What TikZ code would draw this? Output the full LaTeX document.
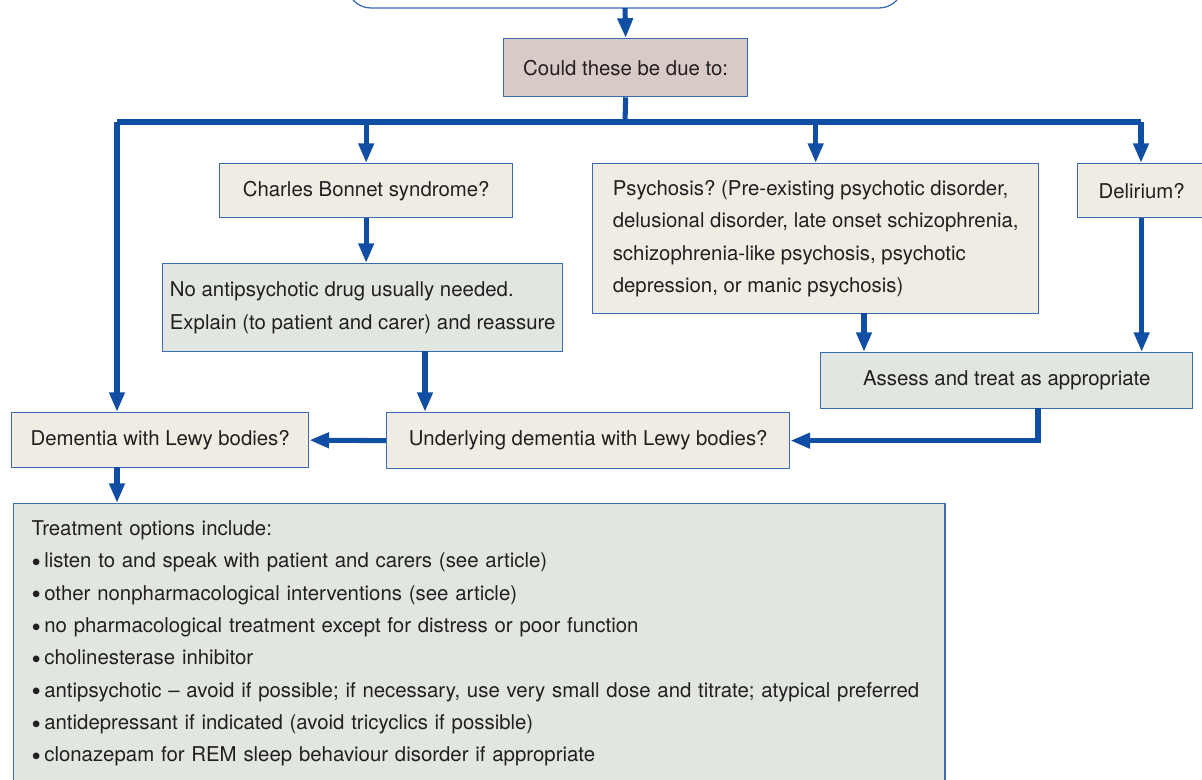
\documentclass[tikz,border=0pt]{standalone}
\usepackage{fontspec}
\setmainfont{TeX Gyre Heros}
\frenchspacing
\definecolor{linkblue}{RGB}{16,78,163}
\definecolor{edgeblue}{RGB}{58,108,180}
\definecolor{qfill}{RGB}{240,236,227}
\definecolor{afill}{RGB}{225,230,225}
\definecolor{cfill}{RGB}{216,202,198}
\definecolor{inkgrey}{RGB}{35,31,32}
\usetikzlibrary{arrows.meta,positioning,calc}
\newcommand{\tbullet}{\raisebox{-0.35ex}{\scalebox{1.3}{•}}\,}

\begin{document}
\begin{tikzpicture}[x=0.025cm,y=-0.025cm,
  box/.style={draw=edgeblue,line width=0.9pt,anchor=north west,align=left,
    inner xsep=0.45cm,inner ysep=0pt,text=inkgrey,
    font=\fontsize{14.5}{23}\selectfont},
  qbox/.style={box,fill=qfill},
  abox/.style={box,fill=afill},
  link/.style={draw=linkblue,line width=3.6pt},
  arr/.style={link,-{Triangle[width=10.5pt,length=14pt]}}]
  \clip (0,0) rectangle (1202,779);
  \draw[draw=edgeblue,line width=0.9pt,rounded corners=0.6cm] (347,-60) rectangle (903,8);
  \coordinate (top) at (625,8);
  \node[box,fill=cfill,minimum width=6.1cm,minimum height=1.45cm] (could) at (503,38) {Could these be due to:};
  \node[qbox,minimum width=7.325cm,minimum height=1.35cm] (cbs) at (219,163) {Charles Bonnet syndrome?};
  \node[abox,inner xsep=0.15cm,minimum width=10cm,minimum height=2.2cm] (noap) at (162,263)
    {No antipsychotic drug usually needed.\\Explain (to patient and carer) and reassure};
  \node[qbox,minimum width=11.15cm,minimum height=3.75cm] (psy) at (592,163)
    {Psychosis? (Pre-existing psychotic disorder,\\delusional disorder, late onset schizophrenia,\\schizophrenia-like psychosis, psychotic\\depression, or manic psychosis)};
  \node[qbox,minimum width=3.2cm,minimum height=1.35cm] (del) at (1077,163) {Delirium?};
  \node[abox,minimum width=9.3cm,minimum height=1.4cm] (assess) at (820,352) {Assess and treat as appropriate};
  \node[qbox,minimum width=10.075cm,minimum height=1.4cm] (under) at (386,412) {Underlying dementia with Lewy bodies?};
  \node[qbox,minimum width=7.425cm,minimum height=1.375cm] (dlb) at (11,412) {Dementia with Lewy bodies?};
  \node[abox,inner ysep=0.42cm,minimum width=23.275cm,text width=22.375cm] (treat) at (13,503)
    {Treatment options include:\\
    \tbullet listen to and speak with patient and carers (see article)\\
    \tbullet other nonpharmacological interventions (see article)\\
    \tbullet no pharmacological treatment except for distress or poor function\\
    \tbullet cholinesterase inhibitor\\
    \tbullet antipsychotic – avoid if possible; if necessary, use very small dose and titrate; atypical preferred\\
    \tbullet antidepressant if indicated (avoid tricyclics if possible)\\
    \tbullet clonazepam for REM sleep behaviour disorder if appropriate\strut};
  % bus under the question box
  \coordinate (bus) at (625,122);
  \coordinate (busL) at (117,122);
  \coordinate (busR) at (1141,122);
  \draw[arr] (top) -- (could.north);
  \draw[link] (could.south) -- (bus);
  \draw[link] (busL) -- (busR);
  \draw[arr] (busL) -- (busL |- dlb.north);
  \draw[arr] (cbs.north |- bus) -- (cbs.north);
  \draw[arr] (psy.north |- bus) -- (psy.north);
  \draw[arr] (busR) -- (busR |- del.north);
  % down the branches
  \draw[arr] (cbs.south) -- (cbs.south |- noap.north);
  \coordinate (noapout) at (425,351);
  \draw[arr] (noapout) -- (noapout |- under.north);
  \coordinate (psyout) at (864,313);
  \draw[arr] (psyout) -- (psyout |- assess.north);
  \draw[arr] (del.south) -- (del.south |- assess.north);
  \coordinate (assessout) at (1038,408);
  \draw[arr] (assessout) |- (under.east);
  \draw[arr] (under.west) -- (dlb.east);
  \coordinate (dlbout) at (117,467);
  \draw[arr] (dlbout) -- (dlbout |- treat.north);
\end{tikzpicture}
\end{document}
